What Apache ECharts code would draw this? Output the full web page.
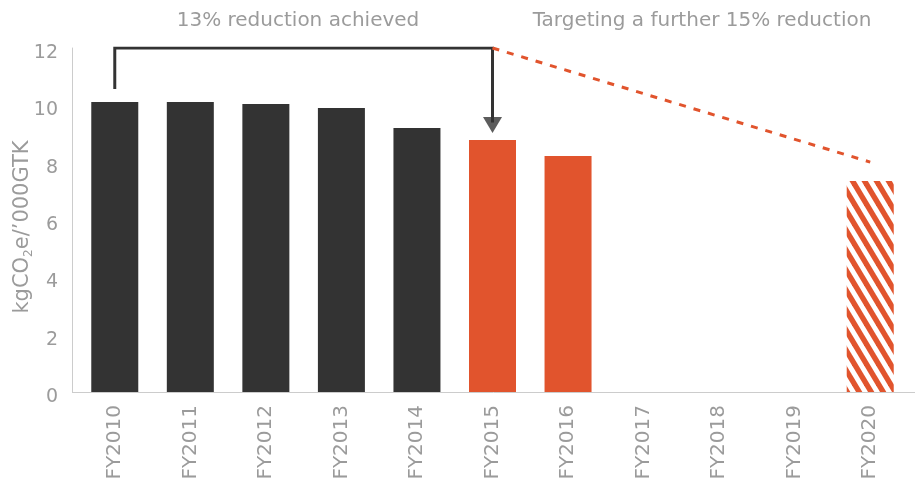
<!DOCTYPE html>
<html>
<head>
<meta charset="utf-8">
<script src="https://cdn.jsdelivr.net/npm/echarts@6/dist/echarts.min.js"></script>
<style>
  html, body { margin: 0; padding: 0; background: #fff; }
  #chart { width: 920px; height: 483px; }
</style>
</head>
<body>
<div id="chart"></div>
<script>
// Emissions intensity per financial year (kgCO2e per '000 gross tonne km)
const years = ['FY2010', 'FY2011', 'FY2012', 'FY2013', 'FY2014', 'FY2015', 'FY2016', 'FY2017', 'FY2018', 'FY2019', 'FY2020'];
const actualHistoric = [10.12, 10.12, 10.05, 9.91, 9.21, null, null, null, null, null, null];
const actualRecent   = [null, null, null, null, null, 8.79, 8.23, null, null, null, null];
const target         = [null, null, null, null, null, null, null, null, null, null, 7.36];
const yTicks = { min: 0, max: 12, interval: 2 };

// Annotation paths: bracket from FY2010 to FY2015 and the dashed target trend
const bracketPath = [['FY2010', 10.57], ['FY2010', 12], ['FY2015', 12], ['FY2015', 9.4]];
const arrowHead = [['FY2015', 9.31]];
const trendPath = [['FY2015', 12], ['FY2020', 8.02]];

const DARK = '#333333';
const ORANGE = '#E1542D';
const GREY_TEXT = '#9b9b9b';
const FONT = 'DejaVu Sans';

// diagonal stripe pattern for the target bar
function stripeTile() {
  const w = 12, h = 20;
  const c = document.createElement('canvas');
  c.width = w; c.height = h;
  const ctx = c.getContext('2d');
  ctx.fillStyle = '#ffffff';
  ctx.fillRect(0, 0, w, h);
  ctx.strokeStyle = ORANGE;
  ctx.lineWidth = 5.4;
  for (let k = -2; k <= 2; k++) {
    ctx.beginPath();
    ctx.moveTo(k * w - w, -h);
    ctx.lineTo(k * w + 2 * w, 2 * h);
    ctx.stroke();
  }
  return c;
}

const chart = echarts.init(document.getElementById('chart'), null, { renderer: 'canvas' });

const titles = [
  { type: 'text', x: 298, y: 21, style: { text: '13% reduction achieved', fill: GREY_TEXT, font: '20px "' + FONT + '"', textAlign: 'center', textVerticalAlign: 'middle' } },
  { type: 'text', x: 702, y: 21, style: { text: 'Targeting a further 15% reduction', fill: GREY_TEXT, font: '20px "' + FONT + '"', textAlign: 'center', textVerticalAlign: 'middle' } }
];

const option = {
  animation: false,
  backgroundColor: '#ffffff',
  grid: { left: 77, right: 12, top: 48, bottom: 91, containLabel: false, outerBoundsMode: 'none' },
  xAxis: {
    type: 'category',
    data: years,
    axisLine: { show: false },
    axisTick: { show: false },
    axisLabel: { rotate: 90, margin: 13, color: GREY_TEXT, fontSize: 20, fontFamily: FONT }
  },
  yAxis: {
    type: 'value',
    min: yTicks.min, max: yTicks.max, interval: yTicks.interval,
    offset: 5,
    axisLine: { show: true, lineStyle: { color: '#cccccc', width: 1 } },
    axisTick: { show: false },
    splitLine: { show: false },
    axisLabel: { color: GREY_TEXT, fontSize: 19, fontFamily: FONT, margin: 14, verticalAlign: 'top', lineHeight: 10 },
    name: '{a|kgCO}{s|2}{a|e/\u2019000GTK}',
    nameLocation: 'middle',
    nameRotate: 90,
    nameGap: 37,
    nameMoveOverlap: false,
    nameTextStyle: {
      padding: [0, 14, 0, 0],
      rich: {
        a: { color: GREY_TEXT, fontSize: 21, fontFamily: FONT },
        s: { color: GREY_TEXT, fontSize: 12, fontFamily: FONT, padding: [12, 0, 0, 0] }
      }
    }
  },
  series: [
    {
      type: 'bar', data: actualHistoric, barWidth: 47, barGap: '-100%',
      itemStyle: { color: DARK }
    },
    {
      type: 'bar', data: actualRecent, barWidth: 47, barGap: '-100%',
      itemStyle: { color: ORANGE }
    },
    {
      type: 'bar', data: target, barWidth: 47, barGap: '-100%',
      itemStyle: { color: { image: stripeTile(), repeat: 'repeat' } }
    },
    {
      type: 'line', data: bracketPath, symbol: 'none', z: 5,
      lineStyle: { color: DARK, width: 3, join: 'miter' }
    },
    {
      type: 'scatter', data: arrowHead, symbol: 'triangle', symbolRotate: 180,
      symbolSize: [19, 16], itemStyle: { color: DARK }, z: 6
    },
    {
      type: 'line', data: trendPath, symbol: 'none', z: 5,
      lineStyle: { color: ORANGE, width: 3, type: [7, 8] }
    }
  ],
  graphic: titles
};

chart.setOption(option);

// extend the baseline across the full plot width, under the bars
const y0 = chart.convertToPixel({ yAxisIndex: 0 }, 0);
chart.setOption({
  graphic: titles.concat([
    { type: 'line', shape: { x1: 72, y1: y0 + 0.5, x2: 915, y2: y0 + 0.5 }, style: { stroke: '#cccccc', lineWidth: 1 }, z: -1 }
  ])
});
</script>
</body>
</html>
